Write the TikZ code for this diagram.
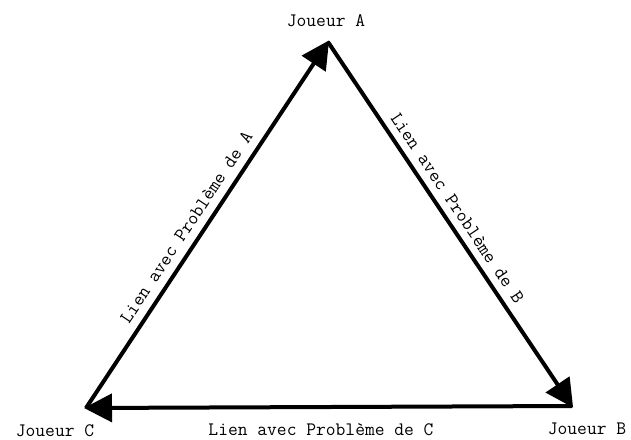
\documentclass[tikz,border=0pt]{standalone}
\usetikzlibrary{arrows.meta}
\begin{document}
\begin{tikzpicture}[x=1pt,y=-1pt,
  lbl/.style={font=\ttfamily\fontsize{19}{21}\selectfont, inner sep=1pt},
  link/.style={line width=4pt, -{Triangle[length=28pt,width=28pt]}, shorten >=-2pt}]
\useasboundingbox (0,0) rectangle (631,439);
\coordinate (A) at (328,42);
\coordinate (B) at (572,406);
\coordinate (C) at (86,408);
\node[lbl] (la) at (326,21) {Joueur A};
\node[lbl] (lb) at (587,429) {Joueur B};
\node[lbl] (lc) at (55,431) {Joueur C};
\draw[link] (C) -- node[lbl, sloped, above=7pt, pos=0.47] (ea) {Lien avec Problème de A} (A);
\draw[link] (A) -- node[lbl, sloped, above=6pt, pos=0.48] (eb) {Lien avec Problème de B} (B);
\draw[link] (B) -- (C);
\node[lbl] (ec) at (321,430) {Lien avec Problème de C};
\end{tikzpicture}
\end{document}
